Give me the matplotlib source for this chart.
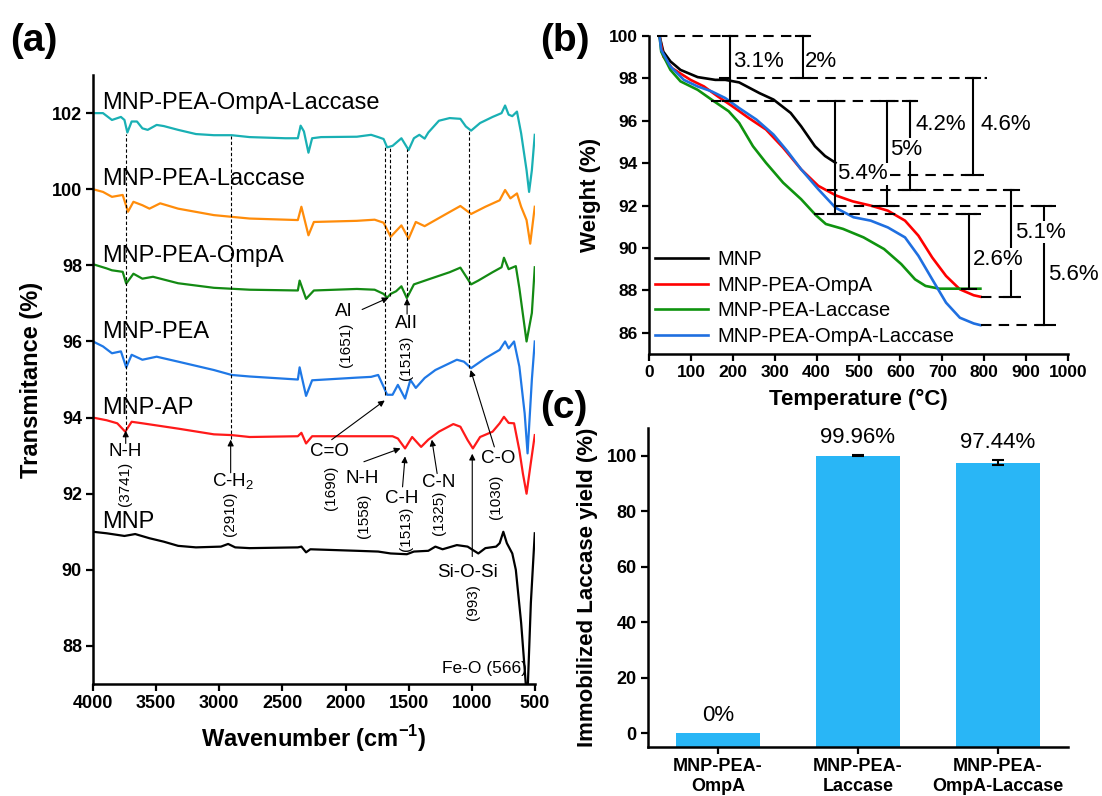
import matplotlib
matplotlib.use("Agg")
import matplotlib.pyplot as plt

plt.rcParams['font.family'] = ['Liberation Sans', 'DejaVu Sans']
plt.rcParams['mathtext.fontset'] = 'custom'
plt.rcParams['mathtext.rm'] = 'Liberation Sans'
plt.rcParams['mathtext.bf'] = 'Liberation Sans:bold'

# ---------------- Panel (a): FTIR spectra ----------------
wn_ompa_lac = [4000, 3921, 3850, 3779, 3751, 3728, 3694, 3652, 3609, 3567, 3496, 3440, 3326, 3185, 3043, 2902,
               2760, 2477, 2378, 2356, 2330, 2294, 2265, 2194, 1911, 1798, 1742, 1699, 1671, 1628, 1558, 1501,
               1459, 1416, 1374, 1345, 1261, 1176, 1091, 1048, 1006, 935, 836, 765, 737, 709, 680, 643, 610,
               567, 547, 525, 502]
t_ompa_lac = [102.0, 102.0, 101.82, 101.9, 101.82, 101.49, 101.78, 101.78, 101.6, 101.56, 101.69, 101.66, 101.56,
              101.45, 101.42, 101.42, 101.37, 101.34, 101.34, 101.67, 101.52, 100.96, 101.34, 101.37, 101.38,
              101.43, 101.37, 101.32, 101.1, 101.14, 101.34, 101.03, 101.34, 101.43, 101.33, 101.49, 101.8,
              101.87, 101.85, 101.65, 101.54, 101.74, 101.9, 102.0, 102.2, 101.96, 101.92, 102.04, 101.47,
              100.5, 99.93, 100.5, 101.43]

wn_lac = [4000, 3921, 3850, 3765, 3723, 3680, 3609, 3553, 3468, 3326, 3043, 2760, 2378, 2350, 2294, 2251, 1911,
          1770, 1699, 1643, 1558, 1501, 1444, 1374, 1204, 1091, 1006, 893, 780, 737, 695, 643, 610, 567, 538, 502]
t_lac = [100.0, 99.93, 99.8, 99.85, 99.41, 99.67, 99.58, 99.49, 99.63, 99.49, 99.32, 99.23, 99.19, 99.54, 98.79,
         99.14, 99.17, 99.2, 99.12, 98.75, 99.05, 98.7, 99.14, 99.03, 99.35, 99.56, 99.35, 99.54, 99.71, 99.98,
         99.76, 99.89, 99.54, 99.19, 98.57, 99.54]

wn_ompa = [4000, 3892, 3850, 3765, 3737, 3680, 3609, 3525, 3326, 3043, 2760, 2378, 2364, 2313, 2251, 1911, 1770,
           1699, 1671, 1643, 1600, 1558, 1515, 1459, 1345, 1176, 1091, 1006, 949, 836, 765, 746, 709, 652, 624,
           567, 525, 502]
t_ompa = [98.03, 97.92, 97.87, 97.83, 97.52, 97.78, 97.65, 97.7, 97.53, 97.41, 97.36, 97.34, 97.6, 97.12, 97.34,
          97.38, 97.36, 97.25, 97.15, 97.25, 97.32, 97.45, 97.14, 97.5, 97.63, 97.82, 97.94, 97.5, 97.6, 97.82,
          97.95, 98.2, 97.9, 97.98, 97.4, 96.0, 96.75, 97.95]

wn_pea = [4000, 3921, 3850, 3779, 3737, 3694, 3609, 3496, 3326, 3043, 2902, 2760, 2378, 2364, 2313, 2265, 1911,
          1798, 1742, 1699, 1671, 1628, 1586, 1529, 1487, 1444, 1374, 1289, 1119, 1063, 1006, 893, 780, 737, 709,
          666, 624, 582, 559, 525, 502]
t_pea = [96.0, 95.87, 95.69, 95.74, 95.32, 95.65, 95.52, 95.6, 95.47, 95.25, 95.12, 95.08, 95.0, 95.32, 94.57,
         94.98, 95.05, 95.07, 95.12, 94.81, 94.6, 94.6, 94.86, 94.5, 94.99, 94.78, 95.04, 95.25, 95.52, 95.47,
         95.3, 95.56, 95.78, 96.0, 95.82, 96.0, 95.34, 94.11, 93.06, 95.0, 96.0]

wn_ap = [4000, 3892, 3808, 3745, 3694, 3609, 3326, 3043, 2902, 2760, 2378, 2350, 2313, 2265, 1911, 1628, 1586,
         1529, 1473, 1402, 1345, 1261, 1147, 1091, 1034, 992, 935, 836, 780, 746, 709, 666, 624, 596, 567, 538,
         502]
t_ap = [94.0, 93.93, 93.85, 93.63, 93.89, 93.85, 93.71, 93.56, 93.54, 93.49, 93.51, 93.6, 93.32, 93.51, 93.51,
        93.51, 93.45, 93.19, 93.49, 93.23, 93.42, 93.63, 93.83, 93.76, 93.41, 93.19, 93.49, 93.63, 93.85, 94.02,
        93.86, 93.85, 93.14, 92.53, 92.0, 92.7, 93.54]

wn_mnp = [4000, 3892, 3751, 3666, 3553, 3440, 3326, 3185, 2987, 2930, 2874, 2760, 2378, 2350, 2313, 2279, 1911,
          1742, 1643, 1515, 1459, 1345, 1289, 1232, 1119, 1034, 949, 893, 808, 780, 751, 723, 680, 652, 610, 582,
          562, 533, 502]
t_mnp = [91.0, 90.96, 90.89, 90.94, 90.83, 90.74, 90.63, 90.59, 90.61, 90.68, 90.59, 90.57, 90.59, 90.61, 90.46,
         90.54, 90.5, 90.48, 90.43, 90.41, 90.48, 90.5, 90.61, 90.54, 90.65, 90.61, 90.43, 90.57, 90.61, 90.7,
         91.0, 90.7, 90.43, 90.0, 88.61, 87.39, 86.5, 89.13, 90.96]

spectra_names = ["MNP-PEA-OmpA-Laccase", "MNP-PEA-Laccase", "MNP-PEA-OmpA", "MNP-PEA", "MNP-AP", "MNP"]
spectra_base = [102, 100, 98, 96, 94, 91]
spectra_colors = ["#19b0b4", "#ff8c0a", "#138a13", "#1f78e6", "#ff1a1a", "#000000"]

# annotation marks for panel (a)
peak_dotted = [(3741, 93.68, 101.45), (2910, 93.45, 101.4), (1690, 94.6, 101.15),
               (1651, 97.2, 101.12), (1513, 97.2, 101.05), (1025, 95.3, 101.55)]
peak_arrows = [(3741, 93.32, 3741, 93.66), (2910, 92.55, 2910, 93.42), (2110, 93.42, 1690, 94.45),
               (1855, 92.84, 1565, 93.19), (1549, 92.18, 1529, 92.98), (1275, 92.53, 1317, 93.42),
               (822, 93.23, 1010, 95.25), (997, 90.35, 997, 93.05), (1869, 96.84, 1660, 97.15),
               (1513, 96.72, 1513, 97.13)]
peak_labels = [("N-H", 3745, 93.1, 0), ("(3741)", 3750, 92.26, 90), ("C-H$_2$", 2888, 92.3, 0),
               ("(2910)", 2916, 91.47, 90), ("C=O", 2124, 93.1, 0), ("(1690)", 2115, 92.16, 90),
               ("N-H", 1869, 92.4, 0), ("(1558)", 1855, 91.43, 90), ("C-H", 1558, 91.87, 0),
               ("(1513)", 1518, 91.08, 90), ("C-N", 1261, 92.3, 0), ("(1325)", 1261, 91.5, 90),
               ("C-O", 793, 92.92, 0), ("(1030)", 808, 91.93, 90), ("Si-O-Si", 1034, 89.93, 0),
               ("(993)", 992, 89.15, 90), ("AI", 2011, 96.79, 0), ("(1651)", 1996, 95.9, 90),
               ("AII", 1515, 96.48, 0), ("(1513)", 1521, 95.56, 90)]

# ---------------- Panel (b): TGA ----------------
temp_mnp = [25, 34, 51, 75, 116, 158, 182, 215, 264, 297, 338, 363, 396, 420, 445]
w_mnp = [100, 99.26, 98.8, 98.4, 98.06, 97.93, 97.93, 97.81, 97.3, 97.0, 96.37, 95.74, 94.8, 94.34, 94.02]
temp_ompa = [25, 34, 55, 99, 131, 164, 197, 238, 279, 320, 363, 404, 447, 486, 529, 570, 611, 643, 676, 709,
             742, 775, 791]
w_ompa = [100, 99.03, 98.48, 97.93, 97.62, 97.15, 96.71, 96.13, 95.59, 94.73, 93.71, 92.93, 92.47, 92.2, 92.0,
          91.76, 91.29, 90.58, 89.55, 88.68, 88.05, 87.77, 87.7]
temp_lac = [25, 29, 51, 75, 116, 149, 190, 215, 248, 279, 320, 363, 398, 422, 463, 512, 561, 602, 635, 660, 693,
            734, 791]
w_lac = [100, 99.26, 98.4, 97.86, 97.46, 97.0, 96.45, 95.9, 94.8, 94.02, 93.08, 92.3, 91.55, 91.13, 90.9, 90.5,
         89.95, 89.24, 88.52, 88.21, 88.08, 88.08, 88.08]
temp_ompa_lac = [25, 29, 51, 83, 116, 149, 182, 215, 256, 297, 330, 363, 404, 445, 488, 529, 570, 611, 643, 676,
                 709, 742, 775, 791]
w_ompa_lac = [100, 99.34, 98.56, 97.93, 97.62, 97.39, 97.07, 96.6, 96.06, 95.35, 94.57, 93.71, 92.77, 91.9,
              91.45, 91.29, 90.97, 90.5, 89.63, 88.52, 87.42, 86.71, 86.44, 86.36]
tga_names = ["MNP", "MNP-PEA-OmpA", "MNP-PEA-Laccase", "MNP-PEA-OmpA-Laccase"]
tga_colors = ["#000000", "#ff0000", "#0f930f", "#1f6fe0"]

# weight-loss annotations: dashed guide lines (W, T start, T end) and bars (T, top, bottom, label, text T, text W)
guide_lines = [(100.0, 18, 396), (98.0, 166, 806), (96.95, 147, 650), (93.45, 576, 800), (92.72, 424, 889),
               (91.97, 447, 971), (91.6, 393, 793), (87.67, 793, 889), (86.35, 793, 971)]
loss_bars = [(193, 100.0, 96.95, "3.1%", 262, 98.8), (367, 100.0, 98.0, "2%", 410, 98.8),
             (445, 96.95, 91.6, "5.4%", 510, 93.5), (568, 96.95, 91.97, "5%", 613, 94.65),
             (623, 96.95, 92.72, "4.2%", 697, 95.82), (773, 98.0, 93.45, "4.6%", 851, 95.82),
             (764, 91.6, 88.08, "2.6%", 834, 89.47), (865, 92.72, 87.67, "5.1%", 934, 90.74),
             (943, 91.97, 86.35, "5.6%", 1012, 88.76)]

# ---------------- Panel (c): immobilization yield ----------------
yield_cats = ["MNP-PEA-\nOmpA", "MNP-PEA-\nLaccase", "MNP-PEA-\nOmpA-Laccase"]
yield_vals = [0.0, 99.96, 97.44]
yield_err = [0.0, 0.2, 0.9]
yield_text = ["0%", "99.96%", "97.44%"]

# =====================================================
fig = plt.figure(figsize=(11.02, 7.96), dpi=100)
axA = fig.add_axes([0.0844, 0.1407, 0.4011, 0.765])
axB = fig.add_axes([0.589, 0.5553, 0.3801, 0.3995])
axC = fig.add_axes([0.588, 0.0616, 0.3811, 0.4007])

def style(ax, size=13):
    for s in ['top', 'right']:
        ax.spines[s].set_visible(False)
    for s in ['left', 'bottom']:
        ax.spines[s].set_linewidth(1.8)
    ax.tick_params(direction='out', length=5, width=1.6, labelsize=size, pad=3)
    for lbl in ax.get_xticklabels() + ax.get_yticklabels():
        lbl.set_fontweight('bold')

# ---- (a)
series = [(wn_ompa_lac, t_ompa_lac), (wn_lac, t_lac), (wn_ompa, t_ompa), (wn_pea, t_pea), (wn_ap, t_ap),
          (wn_mnp, t_mnp)]
for (wn, tt), name, base, col in zip(series, spectra_names, spectra_base, spectra_colors):
    axA.plot(wn, tt, color=col, lw=1.6)
    axA.text(3930, base + 0.1, name, fontsize=17, ha='left', va='baseline')
for x, y0, y1 in peak_dotted:
    axA.plot([x, x], [y0, y1], color='k', lw=0.8, ls=(0, (3, 2)))
for x0, y0, x1, y1 in peak_arrows:
    axA.annotate('', xy=(x1, y1), xytext=(x0, y0),
                 arrowprops=dict(arrowstyle='-|>', color='k', lw=0.8, mutation_scale=9, shrinkA=0, shrinkB=0))
for txt, x, y, rot in peak_labels:
    axA.text(x, y, txt, fontsize=11 if rot else 13.5, rotation=rot, ha='center', va='center')
axA.text(563, 87.42, "Fe-O (566)", fontsize=12.5, ha='right', va='center')
axA.set_xlim(4000, 500)
axA.set_ylim(87, 103)
axA.set_xticks([4000, 3500, 3000, 2500, 2000, 1500, 1000, 500])
axA.set_yticks([88, 90, 92, 94, 96, 98, 100, 102])
style(axA, 13)
axA.set_xlabel("Wavenumber (cm$^{\\mathbf{-1}}$)", fontsize=17, fontweight='bold', labelpad=8)
axA.set_ylabel("Transmitance (%)", fontsize=17, fontweight='bold', labelpad=6)

# ---- (b)
curves = [(temp_mnp, w_mnp), (temp_ompa, w_ompa), (temp_lac, w_lac), (temp_ompa_lac, w_ompa_lac)]
for (tx, wy), name, col in zip(curves, tga_names, tga_colors):
    axB.plot(tx, wy, color=col, lw=1.9, label=name)
for w, t0, t1 in guide_lines:
    axB.plot([t0, t1], [w, w], color='k', lw=1.5, ls=(0, (5, 3.5)), clip_on=False)
cap = 17
for t, top, bot, lab, tx, ty in loss_bars:
    axB.plot([t, t], [top, bot], color='k', lw=1.5, clip_on=False, zorder=3)
    axB.plot([t - cap, t + cap], [top, top], color='k', lw=1.5, clip_on=False, zorder=3)
    axB.plot([t - cap, t + cap], [bot, bot], color='k', lw=1.5, clip_on=False, zorder=3)
    axB.text(tx, ty, lab, fontsize=16, ha='center', va='center', zorder=5,
             bbox=dict(facecolor='white', edgecolor='none', pad=0.5))
axB.set_xlim(0, 1000)
axB.set_ylim(85, 100)
axB.set_xticks(range(0, 1001, 100))
axB.set_yticks(range(86, 101, 2))
style(axB, 12.5)
axB.set_xlabel("Temperature (°C)", fontsize=16, fontweight='bold', labelpad=6)
axB.set_ylabel("Weight (%)", fontsize=16, fontweight='bold', labelpad=6)
leg = axB.legend(loc='lower left', bbox_to_anchor=(0.015, 0.025), frameon=False, fontsize=14.5,
                 handlelength=2.6, handletextpad=0.5, labelspacing=0.33, borderpad=0, borderaxespad=0)

# ---- (c)
ylo, yhi = -5, 110
xpos = list(range(len(yield_cats)))
axC.bar(xpos, [v - ylo for v in yield_vals], bottom=ylo, width=0.6, color='#29b6f6')
for x, v, e in zip(xpos, yield_vals, yield_err):
    if e > 0:
        axC.errorbar(x, v, yerr=e, fmt='none', ecolor='k', elinewidth=1.5, capsize=4, capthick=1.5)
for x, v, e, s in zip(xpos, yield_vals, yield_err, yield_text):
    axC.text(x, v + e + 2.5, s, fontsize=16, ha='center', va='bottom')
axC.set_xlim(-0.5, 2.5)
axC.set_ylim(ylo, yhi)
axC.set_xticks(xpos)
axC.set_xticklabels(yield_cats)
axC.set_yticks(range(0, 101, 20))
style(axC, 13)
axC.set_ylabel("Immobilized Laccase yield (%)", fontsize=16, fontweight='bold', labelpad=6)

# panel letters
fig.text(0.009, 0.948, "(a)", fontsize=28, fontweight='bold', ha='left', va='center')
fig.text(0.490, 0.948, "(b)", fontsize=28, fontweight='bold', ha='left', va='center')
fig.text(0.490, 0.487, "(c)", fontsize=28, fontweight='bold', ha='left', va='center')

fig.savefig("out.png", dpi=100)
